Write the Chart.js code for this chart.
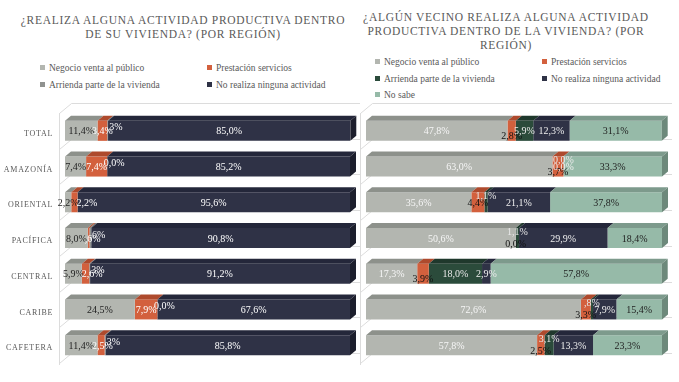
<!DOCTYPE html>
<html>
<head>
<meta charset="utf-8">
<script src="https://cdn.jsdelivr.net/npm/chart.js@4.4.1/dist/chart.umd.min.js"></script>
<style>
html, body { margin: 0; padding: 0; background: #fff; }
body { width: 679px; height: 382px; position: relative; overflow: hidden;
  font-family: "Liberation Serif", "DejaVu Serif", serif; color: #595959; }
.title { position: absolute; text-align: center; font-size: 11.5px; letter-spacing: 0.7px; line-height: 14px; white-space: nowrap; }
.item { position: absolute; white-space: nowrap; font-size: 9.5px; line-height: 14px; }
.item i { display: inline-block; width: 5px; height: 5px; margin-right: 4px; vertical-align: 1px; }
canvas { position: absolute; top: 0; }
</style>
</head>
<body>

<div class="title" style="left:0; top:13px; width:366px;">¿REALIZA ALGUNA ACTIVIDAD PRODUCTIVA DENTRO<br>DE SU VIVIENDA? (POR REGIÓN)</div>
<div class="title" style="left:346px; top:10px; width:320px;">¿ALGÚN VECINO REALIZA ALGUNA ACTIVIDAD<br>PRODUCTIVA DENTRO DE LA VIVIENDA? (POR<br>REGIÓN)</div>

<div id="legendLeft"></div>
<div id="legendRight"></div>

<canvas id="chartLeft" width="360" height="382" style="left:0"></canvas>
<canvas id="chartRight" width="319" height="382" style="left:360px"></canvas>

<script>
// categorías (regiones)
const regions = ['TOTAL', 'AMAZONÍA', 'ORIENTAL', 'PACÍFICA', 'CENTRAL', 'CARIBE', 'CAFETERA'];

// ¿Realiza alguna actividad productiva dentro de su vivienda? (%)
const propNegocio   = [11.4, 7.4, 2.2, 8.0, 5.9, 24.5, 11.4];
const propServicios = [3.4, 7.4, 2.2, 0.6, 2.6, 7.9, 2.5];
const propArrienda  = [0.3, 0.0, null, 0.6, 0.3, 0.0, 0.3];
const propNinguna   = [85.0, 85.2, 95.6, 90.8, 91.2, 67.6, 85.8];

// ¿Algún vecino realiza alguna actividad productiva dentro de la vivienda? (%)
const vecNegocio   = [47.8, 63.0, 35.6, 50.6, 17.3, 72.6, 57.8];
const vecServicios = [2.8, 3.7, 4.4, 0.0, 3.9, 3.3, 2.5];
const vecArrienda  = [5.9, 0.0, 1.1, 1.1, 18.0, 0.8, 3.1];
const vecNinguna   = [12.3, 0.0, 21.1, 29.9, 2.9, 7.9, 13.3];
const vecNoSabe    = [31.1, 33.3, 37.8, 18.4, 57.8, 15.4, 23.3];

// series names
const sNegocio = 'Negocio venta al público';
const sServicios = 'Prestación servicios';
const sArrienda = 'Arrienda parte de la vivienda';
const sNinguna = 'No realiza ninguna actividad';
const sNoSabe = 'No sabe';

// formato tipo excel: 0,0% / ,3% / 11,4%
function fmtPct(v) {
  if (v === 0) return '0,0%';
  if (v < 1) return ',' + Math.round(v * 10) + '%';
  return v.toFixed(1).replace('.', ',') + '%';
}

// barras con efecto 3D + paredes + etiquetas
const DX = 6, DY = 5;      // profundidad de la barra
const WX = 12, WY = 10;    // profundidad de la pared
const bars3d = {
  id: 'bars3d',
  beforeDraw(chart) {
    chart.ctx.letterSpacing = '0.7px';
  },
  beforeDatasetsDraw(chart) {
    const ctx = chart.ctx, a = chart.chartArea;
    const n = chart.data.labels.length;
    const step = (a.bottom - a.top) / n;
    const ax = Math.round(a.left - 6) + 0.5;
    ctx.save();
    ctx.strokeStyle = '#dcdcdc';
    ctx.lineWidth = 1;
    ctx.beginPath();
    ctx.moveTo(ax, a.top);
    ctx.lineTo(ax, a.bottom + 2);
    for (let i = 0; i <= n; i++) {
      const yy = Math.round(a.top + i * step) + 0.5;
      ctx.moveTo(ax, yy);
      ctx.lineTo(ax + WX, yy - WY);
      ctx.lineTo(a.right + 10, yy - WY);
    }
    ctx.stroke();
    ctx.restore();
  },
  afterDatasetsDraw(chart, args, opts) {
    const ctx = chart.ctx;
    const sets = chart.data.datasets;
    ctx.save();
    ctx.letterSpacing = '0px';
    // caras superiores y lateral
    sets.forEach((ds, di) => {
      const meta = chart.getDatasetMeta(di);
      meta.data.forEach((el, i) => {
        if (ds.data[i] === null) return;
        const p = el.getProps(['x', 'y', 'base', 'height'], true);
        const l = Math.min(p.x, p.base), r = Math.max(p.x, p.base);
        const t = p.y - p.height / 2, b = p.y + p.height / 2;
        ctx.fillStyle = ds.topColor;
        ctx.beginPath();
        ctx.moveTo(l, t); ctx.lineTo(r, t); ctx.lineTo(r + DX, t - DY); ctx.lineTo(l + DX, t - DY);
        ctx.closePath(); ctx.fill();
        if (di === sets.length - 1) {
          ctx.fillStyle = ds.sideColor;
          ctx.beginPath();
          ctx.moveTo(r, t); ctx.lineTo(r + DX, t - DY); ctx.lineTo(r + DX, b - DY); ctx.lineTo(r, b);
          ctx.closePath(); ctx.fill();
        }
      });
    });
    // etiquetas de datos
    ctx.font = '10px "Liberation Serif", serif';
    ctx.textBaseline = 'middle';
    ctx.textAlign = 'center';
    regions.forEach((c, i) => {
      let prevRight = -1e9;
      sets.forEach((ds, di) => {
        const v = ds.data[i];
        if (v === null) return;
        const p = chart.getDatasetMeta(di).data[i].getProps(['x', 'y', 'base'], true);
        const txt = fmtPct(v);
        const w = ctx.measureText(txt).width;
        let cx = (p.x + p.base) / 2, cy = p.y + 1;
        if (Math.abs(p.x - p.base) < 13) {
          cx += ds.smallDx || 0;
          cy += ds.smallDy || 0;
        }
        if (ds.avoid && cx - w / 2 < prevRight - 2) cx = prevRight - 2 + w / 2;
        ctx.fillStyle = ds.lblColor;
        ctx.fillText(txt, cx, cy);
        prevRight = cx + w / 2;
      });
    });
    ctx.restore();
  }
};

function buildChart(id, datasets, showLabels, padLeft, padRight) {
  return new Chart(document.getElementById(id), {
    type: 'bar',
    data: { labels: regions, datasets: datasets },
    options: {
      indexAxis: 'y',
      responsive: false,
      animation: false,
      layout: { padding: { left: padLeft, right: padRight, top: 113, bottom: 19 } },
      datasets: { bar: { categoryPercentage: 1, barPercentage: 0.56, borderWidth: 0 } },
      scales: {
        x: { stacked: true, min: 0, max: 100, display: false },
        y: {
          stacked: true,
          display: showLabels,
          grid: { display: false, drawTicks: false },
          border: { display: false },
          ticks: { color: '#595959', font: { family: 'Liberation Serif', size: 8 }, padding: 12, labelOffset: 3 },
          afterFit(s) { s.width = showLabels ? 65 : 0; }
        }
      },
      plugins: { legend: { display: false }, tooltip: { enabled: true } }
    },
    plugins: [bars3d]
  });
}

const cGray = '#b3b6b0', cGrayTop = '#8d918b';
const cOrange = '#d3603d', cOrangeTop = '#ae4a2d';
const cNavy = '#2f3246', cNavyTop = '#24273a', cNavySide = '#1c1e2c';

buildChart('chartLeft', [
  { label: sNegocio, data: propNegocio, backgroundColor: cGray, topColor: cGrayTop, lblColor: '#1f1f1f' },
  { label: sServicios, data: propServicios, backgroundColor: cOrange, topColor: cOrangeTop, lblColor: '#ffffff', avoid: true },
  { label: sArrienda, data: propArrienda, backgroundColor: '#909290', topColor: '#737572', lblColor: '#ffffff', smallDx: 7, smallDy: -4 },
  { label: sNinguna, data: propNinguna, backgroundColor: cNavy, topColor: cNavyTop, sideColor: cNavySide, lblColor: '#ffffff' }
], true, 0, 10);

buildChart('chartRight', [
  { label: sNegocio, data: vecNegocio, backgroundColor: cGray, topColor: cGrayTop, lblColor: '#f6f6f6' },
  { label: sServicios, data: vecServicios, backgroundColor: cOrange, topColor: cOrangeTop, lblColor: '#111111', smallDy: 5 },
  { label: sArrienda, data: vecArrienda, backgroundColor: '#2b4b3b', topColor: '#1f382c', lblColor: '#e8e8e8', smallDy: -7 },
  { label: sNinguna, data: vecNinguna, backgroundColor: cNavy, topColor: cNavyTop, lblColor: '#eeeeee' },
  { label: sNoSabe, data: vecNoSabe, backgroundColor: '#96baa8', topColor: '#7d9a8c', sideColor: '#6d897b', lblColor: '#1f1f1f' }
], false, 6, 17);

// leyendas html
function legend(el, items) {
  const box = document.getElementById(el);
  items.forEach(it => {
    const d = document.createElement('div');
    d.className = 'item';
    d.style.left = it[2] + 'px';
    d.style.top = it[3] + 'px';
    d.innerHTML = '<i style="background:' + it[1] + '"></i>' + it[0];
    box.appendChild(d);
  });
}
legend('legendLeft', [
  [sNegocio, cGray, 40, 61], [sServicios, cOrange, 207, 61],
  [sArrienda, '#909290', 40, 78], [sNinguna, cNavy, 207, 78]
]);
legend('legendRight', [
  [sNegocio, cGray, 375, 55], [sServicios, cOrange, 542, 55],
  [sArrienda, '#2b4b3b', 375, 72], [sNinguna, cNavy, 542, 72],
  [sNoSabe, '#96baa8', 375, 88]
]);
</script>
</body>
</html>
